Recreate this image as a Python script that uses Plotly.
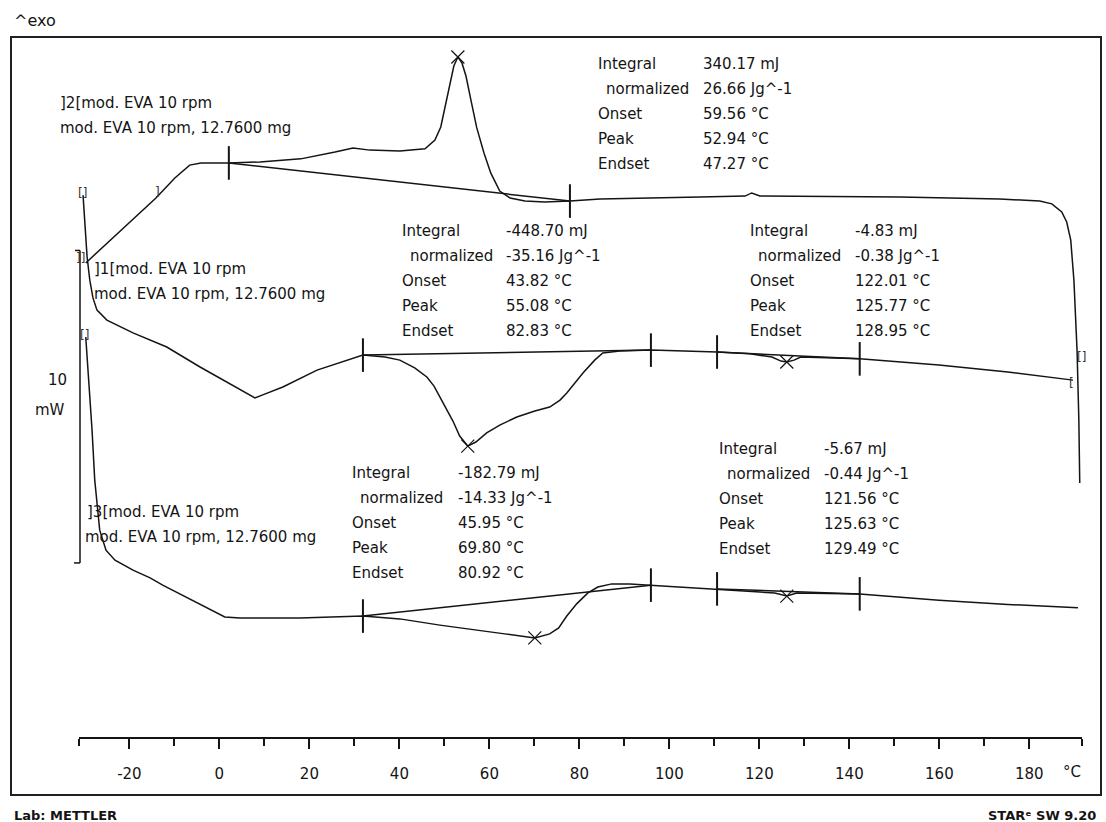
import numpy as np
import plotly.graph_objects as go

# ---------------- data (temperature in degC, heat flow in mW, curves offset for display) ----------------
# curve 1: first heating
T1 = [-30.3, -29.4, -28.8, -28.1, -27.2, -25.0, -19.2, -11.7, -4.3, 3.0, 5.5, 7.9, 10.2, 14.1,
      21.7, 29.0, 31.9, 36.8, 40.1, 43.4, 46.1, 47.7, 49.0, 50.6, 51.9, 53.4, 55.2, 57.0, 59.4,
      62.3, 66.1, 70.1, 73.4, 75.7, 77.2, 80.8, 83.4, 85.2, 89.0, 95.9, 102.3, 110.6, 117.9,
      122.8, 124.8, 126.1, 127.7, 129.2, 142.3, 159.9, 175.2, 189.7]
P1 = [17.34, 15.36, 14.62, 14.05, 13.66, 13.34, 12.93, 12.48, 11.84, 11.26, 11.04, 10.85, 10.98, 11.20,
      11.74, 12.10, 12.22, 12.16, 12.06, 11.81, 11.52, 11.23, 10.88, 10.46, 10.11, 9.63, 9.31, 9.44, 9.73,
      9.98, 10.24, 10.43, 10.56, 10.78, 11.01, 11.65, 12.06, 12.29, 12.35, 12.38, 12.35, 12.32, 12.26,
      12.16, 12.03, 12.00, 12.06, 12.16, 12.10, 11.90, 11.68, 11.42]

# curve 2: cooling (listed in time order, from 190 degC down to -30 degC)
T2 = [191.2, 191.0, 190.6, 189.9, 189.2, 188.3, 187.2, 185.0, 182.3, 173.4, 151.2, 129.0, 120.1,
      118.3, 116.8, 106.8, 95.7, 84.6, 77.9, 72.3, 67.9, 64.6, 62.3, 60.3, 58.8, 57.2, 55.9, 54.8,
      53.9, 53.0, 52.1, 51.2, 50.3, 49.2, 47.9, 45.7, 40.1, 33.4, 29.7, 25.7, 18.1, 9.0, 2.1, -4.1,
      -6.6, -9.9, -14.1, -19.9, -24.3, -27.7, -29.7]
P2 = [8.13, 10.14, 12.38, 14.62, 15.90, 16.48, 16.80, 17.06, 17.15, 17.22, 17.28, 17.31, 17.31,
      17.41, 17.31, 17.28, 17.25, 17.22, 17.15, 17.12, 17.15, 17.25, 17.47, 18.05, 18.69, 19.49, 20.38, 21.15,
      21.57, 21.76, 21.47, 20.86, 20.22, 19.52, 19.10, 18.82, 18.75, 18.78, 18.85, 18.72, 18.50, 18.40, 18.37, 18.37,
      18.30, 17.89, 17.25, 16.48, 15.90, 15.46, 15.17]

# curve 3: second heating
T3 = [-29.7, -29.0, -28.3, -27.7, -27.0, -26.6, -25.2, -23.2, -19.2, -15.4, -12.6, -4.8, 1.2, 4.6,
      17.9, 31.9, 40.1, 49.0, 55.7, 63.4, 70.1, 73.4, 75.4, 77.2, 79.4, 81.9, 84.1, 87.2, 91.2, 95.9,
      102.3, 110.6, 117.9, 123.4, 126.1, 128.3, 142.3, 159.9, 175.2, 190.8]
P3 = [12.80, 11.42, 9.82, 8.22, 7.10, 6.62, 5.98, 5.66, 5.34, 5.09, 4.86, 4.29, 3.84, 3.81,
      3.81, 3.87, 3.78, 3.58, 3.46, 3.30, 3.17, 3.30, 3.49, 3.87, 4.26, 4.61, 4.80, 4.90, 4.90, 4.86,
      4.80, 4.74, 4.67, 4.61, 4.51, 4.61, 4.58, 4.38, 4.24, 4.14]

# integration limits (degC) and peak temperatures (degC)
LIMITS2 = [(2.1, 77.9)]
LIMITS1 = [(31.9, 95.9), (110.6, 142.3)]
LIMITS3 = [(31.9, 95.9), (110.6, 142.3)]
PEAKS2 = [53.0]
PEAKS1 = [55.2, 126.1]
PEAKS3 = [70.1, 126.1]

# evaluation result texts
RESULT_LABELS = ["Integral", "normalized", "Onset", "Peak", "Endset"]
RES_A = ["340.17 mJ", "26.66 Jg^-1", "59.56 °C", "52.94 °C", "47.27 °C"]
RES_B = ["-448.70 mJ", "-35.16 Jg^-1", "43.82 °C", "55.08 °C", "82.83 °C"]
RES_C = ["-4.83 mJ", "-0.38 Jg^-1", "122.01 °C", "125.77 °C", "128.95 °C"]
RES_D = ["-182.79 mJ", "-14.33 Jg^-1", "45.95 °C", "69.80 °C", "80.92 °C"]
RES_E = ["-5.67 mJ", "-0.44 Jg^-1", "121.56 °C", "125.63 °C", "129.49 °C"]

CURVE_LABELS = [("]2[mod. EVA 10 rpm", "mod. EVA 10 rpm, 12.7600 mg"),
                ("]1[mod. EVA 10 rpm", "mod. EVA 10 rpm, 12.7600 mg"),
                ("]3[mod. EVA 10 rpm", "mod. EVA 10 rpm, 12.7600 mg")]

X_TICKS = list(range(-20, 181, 20))
X_MINOR = [-31.2] + list(range(-10, 171, 20)) + [191.7]
X_RANGE = [-31.2, 191.7]
Y_RANGE = [0, 22.4]
SCALE_MW = 10
SCALE_BOTTOM = 5.57

# ---------------- layout helpers ----------------
W, H = 1106, 822
ML, MR, MT, MB = 79, 24, 37, 85
PW, PH = W - ML - MR, H - MT - MB
FONT = "DejaVu Sans"
INK = "#141414"


def px(x):
    return (x - ML) / PW


def py(y):
    return (H - MB - y) / PH


fig = go.Figure()
line = dict(color=INK, width=1.5)

curves = [(T1, P1, LIMITS1, PEAKS1), (T2, P2, LIMITS2, PEAKS2), (T3, P3, LIMITS3, PEAKS3)]
for T, P, lims, peaks in curves:
    fig.add_trace(go.Scatter(x=T, y=P, mode="lines", line=line, hoverinfo="skip"))
    Ta, Pa = np.array(T), np.array(P)
    order = np.argsort(Ta)
    Ts, Ps = Ta[order], Pa[order]
    mx, my = [], []
    for lo, hi in lims:
        ylo, yhi = np.interp(lo, Ts, Ps), np.interp(hi, Ts, Ps)
        fig.add_trace(go.Scatter(x=[lo, hi], y=[ylo, yhi], mode="lines", line=line, hoverinfo="skip"))
        mx += [lo, hi]
        my += [ylo, yhi]
    fig.add_trace(go.Scatter(x=mx, y=my, mode="markers", hoverinfo="skip",
                             marker=dict(symbol="line-ns", size=24, line=dict(color=INK, width=2))))
    fig.add_trace(go.Scatter(x=peaks, y=[np.interp(p, Ts, Ps) for p in peaks], mode="markers",
                             hoverinfo="skip",
                             marker=dict(symbol="x-thin", size=13, line=dict(color=INK, width=1.2))))

ann = []


def text(x, y, s, size=15, anchor="left", bold=False, color=INK):
    ann.append(dict(x=px(x), y=py(y), xref="paper", yref="paper", text=s, showarrow=False,
                    xanchor=anchor, yanchor="middle",
                    font=dict(family=FONT, size=size, color=color, weight="bold" if bold else "normal")))


blocks = [(RES_A, 596, 701, 64), (RES_B, 400, 504, 231), (RES_C, 748, 853, 231),
          (RES_D, 350, 456, 473), (RES_E, 717, 822, 449)]
for vals, lx, vx, y0 in blocks:
    for i, (lab, val) in enumerate(zip(RESULT_LABELS, vals)):
        yy = y0 + 25 * i
        text(lx + (8 if i == 1 else 0), yy, lab)
        text(vx, yy, val)

label_pos = [(58, 103, 58, 128), (92, 269, 92, 294), (85, 512, 83, 537)]
for (l1, l2), (x1, y1, x2, y2) in zip(CURVE_LABELS, label_pos):
    text(x1, y1, l1)
    text(x2, y2, l2)

# small range brackets at curve ends
for bx, by, s in [(82, 193, "[]"), (80, 258, "]]"), (84, 335, "[]"), (157, 192, "]"),
                  (1081, 357, "[]"), (1071, 383, "[")]:
    text(bx, by, s, size=12, anchor="center", color="#333333")

text(57, 380, "10", anchor="center")
text(50, 410, "mW", anchor="center")
text(12, 20, "^exo", size=16)
text(12, 815, "Lab: METTLER", size=13, bold=True)
text(1098, 815, "STARᵉ SW 9.20", size=13, anchor="right", bold=True)
ann.append(dict(x=189.4, y=py(772), xref="x", yref="paper", text="°C", showarrow=False,
                xanchor="center", yanchor="middle", font=dict(family=FONT, size=15, color=INK)))

shapes = [dict(type="rect", xref="paper", yref="paper", x0=px(11), x1=px(1101), y0=py(795), y1=py(37),
               line=dict(color="#202020", width=2)),
          dict(type="line", xref="paper", yref="y", x0=px(80), x1=px(80),
               y0=SCALE_BOTTOM, y1=SCALE_BOTTOM + SCALE_MW, line=dict(color=INK, width=1.5)),
          dict(type="line", xref="paper", yref="y", x0=px(74), x1=px(80),
               y0=SCALE_BOTTOM, y1=SCALE_BOTTOM, line=dict(color=INK, width=1.5)),
          dict(type="line", xref="paper", yref="y", x0=px(75), x1=px(80),
               y0=SCALE_BOTTOM + SCALE_MW, y1=SCALE_BOTTOM + SCALE_MW, line=dict(color=INK, width=1.5))]

fig.update_layout(
    width=W, height=H, margin=dict(l=ML, r=MR, t=MT, b=MB, pad=0),
    paper_bgcolor="white", plot_bgcolor="white", showlegend=False,
    annotations=ann, shapes=shapes,
    xaxis=dict(range=X_RANGE, showgrid=False, zeroline=False, showline=True, linecolor=INK, linewidth=1.5,
               ticks="outside", ticklen=10, tickwidth=1.5, tickcolor=INK,
               tickvals=X_TICKS, ticktext=[str(v) for v in X_TICKS], ticklabelstandoff=12,
               tickfont=dict(family=FONT, size=15, color=INK),
               minor=dict(tickmode="array", tickvals=X_MINOR, ticks="outside", ticklen=7, tickwidth=1.5,
                          tickcolor=INK, showgrid=False)),
    yaxis=dict(range=Y_RANGE, visible=False, showgrid=False, zeroline=False),
)

fig.write_html("out.html")
